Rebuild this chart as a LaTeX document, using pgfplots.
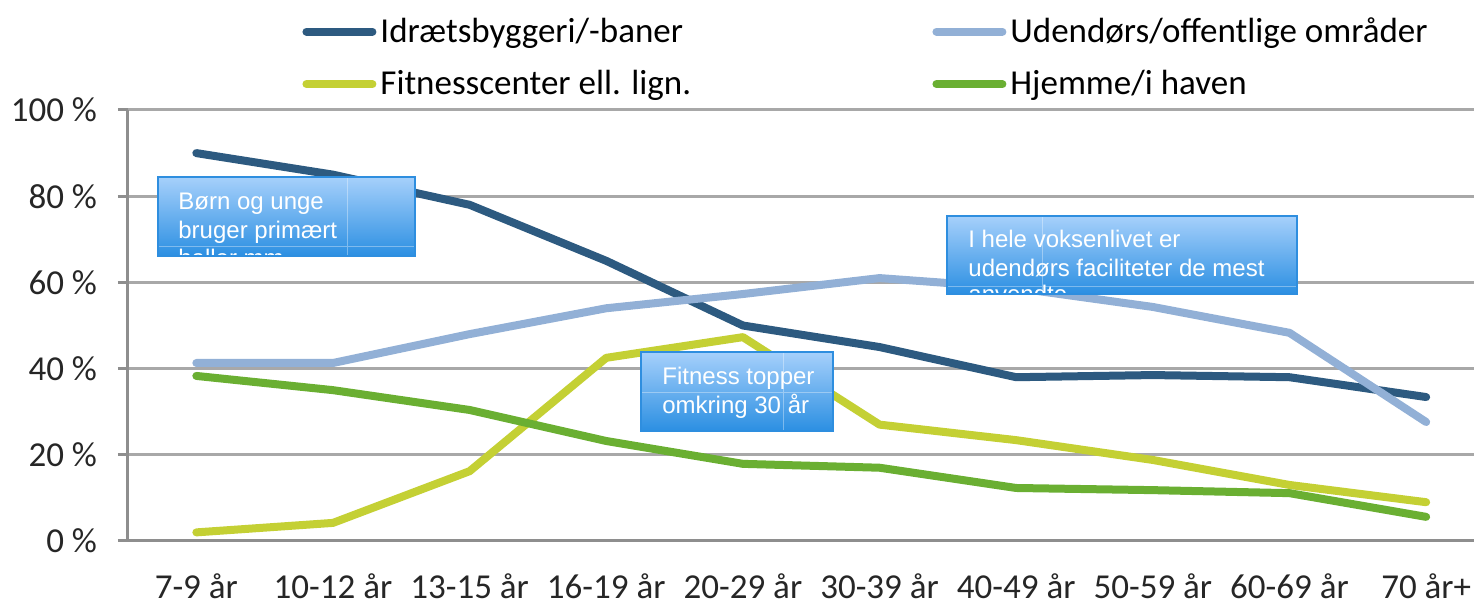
\documentclass[border=0pt]{standalone}
\usepackage{pgfplots}
\pgfplotsset{compat=1.18}
\usepackage{fontspec}
\setmainfont{Carlito}
\newfontfamily\boxfont{Liberation Sans}
\definecolor{cDark}{HTML}{2D5A80}
\definecolor{cLight}{HTML}{92B0D6}
\definecolor{cFit}{HTML}{C4D034}
\definecolor{cHome}{HTML}{6AAF32}
\definecolor{cGrid}{HTML}{A8A8A8}
\definecolor{cAxis}{HTML}{8E8E8E}
\definecolor{boxTop}{HTML}{A6D0FB}
\definecolor{boxBot}{HTML}{2B8FE2}
\definecolor{boxEdge}{HTML}{2E8EDF}
\begin{document}
\begin{tikzpicture}
\path[use as bounding box] (-64pt,-32pt) rectangle (675.5pt,270.5pt);
\begin{axis}[
  at={(0,0)}, anchor=south west,
  scale only axis, width=673pt, height=215.5pt,
  xmin=-0.5, xmax=9.35, ymin=0, ymax=100,
  axis lines*=left,
  axis line style={cAxis, line width=1.5pt},
  /pgf/number format/assume math mode=true,
  ytick={0,20,...,100},
  yticklabel={\pgfmathprintnumber{\tick}~\%},
  ymajorgrids, grid style={cGrid, line width=1.5pt},
  xtick={0,...,9},
  xticklabels={7-9 år,10-12 år,13-15 år,16-19 år,20-29 år,30-39 år,40-49 år,50-59 år,60-69 år,70 år+},
  x tick style={draw=none},
  y tick style={cAxis, line width=1.5pt},
  tick align=outside, major tick length=5pt,
  extra x ticks={-0.5,0.5,...,8.5},
  extra x tick labels={},
  extra x tick style={tick style={draw=cAxis, line width=1.5pt}, major tick length=5pt},
  tick label style={font=\fontsize{17.5}{20}\selectfont, text=black!85},
  xticklabel style={yshift=-8pt},
  yticklabel style={xshift=-7pt},
  legend style={at={(0.1293,1.018)}, anchor=south west, draw=none, fill=none,
    legend columns=2, font=\fontsize{17.5}{20}\selectfont, inner sep=0pt,
    row sep=8.5pt, nodes={inner sep=2pt}},
  legend cell align=left,
  legend image code/.code={\draw[#1, line width=4pt, line cap=round] (0pt,0pt) -- (33pt,0pt);},
  every axis plot/.append style={line width=4pt, line join=round, line cap=round},
]
\addplot[cDark] coordinates {(0,90) (1,85) (2,78) (3,65) (4,50) (5,45) (6,38) (7,38.5) (8,38) (9,33.4)};
\addlegendentry{\makebox[274pt][l]{Idrætsbyggeri/-baner}}
\addplot[cLight] coordinates {(0,41.3) (1,41.3) (2,48) (3,54) (4,57.3) (5,61) (6,58.7) (7,54.3) (8,48.3) (9,27.6)};
\addlegendentry{Udendørs/offentlige områder}
\addplot[cFit] coordinates {(0,2) (1,4.2) (2,16.2) (3,42.5) (4,47.3) (5,27) (6,23.4) (7,18.8) (8,13) (9,9)};
\addlegendentry{\makebox[274pt][l]{Fitnesscenter ell. lign.}}
\addplot[cHome] coordinates {(0,38.3) (1,35) (2,30.4) (3,23.2) (4,17.9) (5,17) (6,12.3) (7,11.8) (8,11.1) (9,5.6)};
\addlegendentry{Hjemme/i haven}
\end{axis}
% annotation boxes
\begin{scope}[font=\boxfont\fontsize{12}{14}\selectfont, text=white]
 \begin{scope}
  \clip (15pt,142.5pt) rectangle (143.5pt,182pt);
  \shade[top color=boxTop, bottom color=boxBot] (15pt,142.5pt) rectangle (143.5pt,182pt);
  \draw[white, opacity=0.35, line width=0.5pt] (109.5pt,142.5pt) -- (109.5pt,182pt) (15pt,147pt) -- (143.5pt,147pt);
  \node[anchor=base west, inner sep=0pt] at (25pt,165.5pt) {Børn og unge};
  \node[anchor=base west, inner sep=0pt] at (25pt,151pt) {bruger primært};
  \node[anchor=base west, inner sep=0pt] at (25pt,137pt) {haller mm.};
 \end{scope}
 \draw[boxEdge, line width=1pt] (15pt,142.5pt) rectangle (143.5pt,182pt);
 \begin{scope}
  \clip (256.5pt,55pt) rectangle (352.5pt,94.5pt);
  \shade[top color=boxTop, bottom color=boxBot] (256.5pt,55pt) rectangle (352.5pt,94.5pt);
  \draw[white, opacity=0.35, line width=0.5pt] (327.5pt,55pt) -- (327.5pt,94.5pt) (256.5pt,74pt) -- (352.5pt,74pt);
  \node[anchor=base west, inner sep=0pt] at (267pt,78pt) {Fitness topper};
  \node[anchor=base west, inner sep=0pt] at (267pt,63.5pt) {omkring 30 år};
 \end{scope}
 \draw[boxEdge, line width=1pt] (256.5pt,55pt) rectangle (352.5pt,94.5pt);
 \begin{scope}
  \clip (409.5pt,123.5pt) rectangle (584.5pt,162.5pt);
  \shade[top color=boxTop, bottom color=boxBot] (409.5pt,123.5pt) rectangle (584.5pt,162.5pt);
  \draw[white, opacity=0.35, line width=0.5pt] (457pt,123.5pt) -- (457pt,162.5pt) (409.5pt,127pt) -- (584.5pt,127pt);
  \node[anchor=base west, inner sep=0pt] at (420pt,146.5pt) {I hele voksenlivet er};
  \node[anchor=base west, inner sep=0pt] at (420pt,132pt) {udendørs faciliteter de mest};
  \node[anchor=base west, inner sep=0pt] at (420pt,119pt) {anvendte};
 \end{scope}
 \draw[boxEdge, line width=1pt] (409.5pt,123.5pt) rectangle (584.5pt,162.5pt);
\end{scope}
\end{tikzpicture}
\end{document}
